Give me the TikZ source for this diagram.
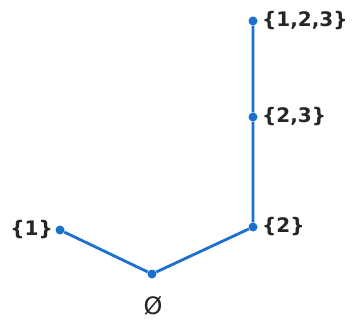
\documentclass[tikz,border=0pt]{standalone}
\usepackage{fontspec}
\setmainfont{DejaVu Sans}
\definecolor{edgeblue}{RGB}{28,112,205}
\begin{document}
\begin{tikzpicture}[x=1pt,y=-1pt,
  vtx/.style={circle,fill=edgeblue,inner sep=0pt,minimum size=9pt},
  edge/.style={draw=edgeblue,line width=2.8pt},
  lbl/.style={font=\fontsize{20}{24}\selectfont\bfseries,text=black!85,inner sep=0pt}]
\useasboundingbox (0,0) rectangle (358,323);
\node[vtx] (t) at (253,21) {};
\node[vtx] (m) at (253,117) {};
\node[vtx] (b) at (253,227) {};
\node[vtx] (o) at (60,230) {};
\node[vtx] (e) at (152,274) {};
\draw[edge] (o) -- (e) -- (b) -- (m) -- (t);
\node[lbl,anchor=west] (lt) at (262,21) {\{1,2,3\}};
\node[lbl,anchor=west] (lm) at (262,117) {\{2,3\}};
\node[lbl,anchor=west] (lb) at (262,227) {\{2\}};
\node[lbl,anchor=east] (lo) at (53,230) {\{1\}};
\node[lbl,font=\fontsize{24}{28}\selectfont,anchor=center] (le) at (153,306) {Ø};
\end{tikzpicture}
\end{document}
